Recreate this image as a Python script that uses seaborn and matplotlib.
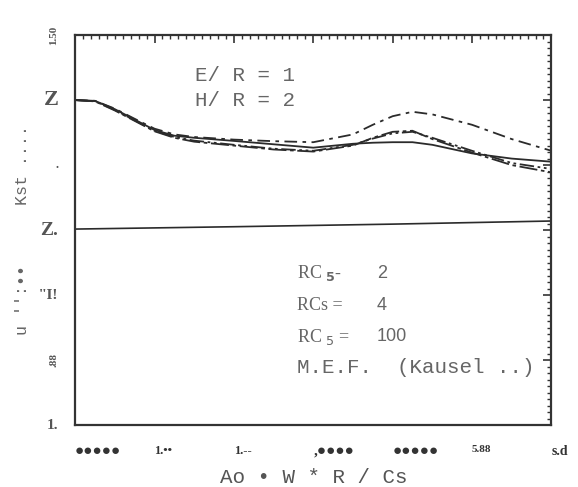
import matplotlib.pyplot as plt
import seaborn as sns
import pandas as pd
from matplotlib.ticker import MultipleLocator

# Valores (Kst x a0)
a0 = [0, 0.25, 0.5, 0.75, 1.0, 1.25, 1.5, 2.0, 2.5, 3.0, 3.5, 3.75, 4.0, 4.25, 4.5, 5.0, 5.5, 6.0]
kst_solid = [1.25, 1.247, 1.215, 1.175, 1.135, 1.113, 1.105, 1.093, 1.08, 1.067, 1.082, 1.086, 1.088, 1.088, 1.078, 1.045, 1.025, 1.013]
kst_dashdot_high = [1.25, 1.247, 1.217, 1.178, 1.14, 1.118, 1.108, 1.098, 1.092, 1.088, 1.118, 1.155, 1.188, 1.205, 1.195, 1.155, 1.10, 1.055]
kst_dashdot = [1.25, 1.245, 1.21, 1.17, 1.13, 1.105, 1.09, 1.075, 1.06, 1.052, 1.075, 1.105, 1.128, 1.132, 1.10, 1.048, 1.0, 0.972]
kst_dashdotdot = [1.25, 1.246, 1.212, 1.172, 1.132, 1.108, 1.094, 1.078, 1.063, 1.055, 1.078, 1.102, 1.122, 1.128, 1.105, 1.055, 1.008, 0.985]
a0_static = [0, 2, 4, 6]
kst_static = [0.754, 0.763, 0.773, 0.785]

x_ticks = [0, 1, 2, 3, 4, 5, 6]
x_tick_labels = ["●●●●●", "1.••", "1.--", ",●●●●", "●●●●●", "5.88", "s.d"]
y_ticks = [0, 0.25, 0.5, 0.75, 1.0, 1.25, 1.5]
y_tick_labels = ["1.", ".88", "''I!", "Z.", ".", "Z", "1.50"]

curves = pd.DataFrame({
    "a0": a0 * 4,
    "kst": kst_solid + kst_dashdot_high + kst_dashdot + kst_dashdotdot,
    "caso": ["solid"] * len(a0) + ["high"] * len(a0) + ["dashdot"] * len(a0) + ["dashdotdot"] * len(a0),
})

sns.set_theme(style="white")
plt.rcParams["font.family"] = ["Liberation Mono", "DejaVu Sans"]

fig = plt.figure(figsize=(5.78, 4.87), dpi=100)
ax = fig.add_axes([0.130, 0.127, 0.824, 0.801])

cor = "#2b2b2b"
sns.lineplot(data=curves, x="a0", y="kst", style="caso",
             dashes={"solid": "", "high": (7, 3, 2, 3), "dashdot": (10, 2, 2, 2),
                     "dashdotdot": (8, 2, 1.5, 2, 1.5, 2)},
             color=cor, linewidth=1.3, legend=False, sort=False, errorbar=None, ax=ax)
sns.lineplot(x=a0_static, y=kst_static, color=cor, linewidth=1.2, ax=ax)

ax.set_xlim(0, 6)
ax.set_ylim(0, 1.5)

for s in ax.spines.values():
    s.set_color("#333333")
    s.set_linewidth(1.6)

serif = ["Liberation Serif", "DejaVu Sans"]
sans = ["Liberation Sans", "DejaVu Sans"]

ax.set_xticks(x_ticks)
ax.set_xticklabels(x_tick_labels, ha="left", fontweight="bold", family=serif, color="#333333")
for lbl, fs in zip(ax.get_xticklabels(), [11, 9, 9, 11, 11, 8, 10]):
    lbl.set_fontsize(fs)
ax.set_yticks(y_ticks)
ax.set_yticklabels(y_tick_labels, fontweight="bold", family=serif, color="#555555")
for lbl, rot, fs in zip(ax.get_yticklabels(), [0, 90, 0, 0, 0, 0, 90], [11, 8, 11, 14, 9, 16, 8]):
    lbl.set_rotation(rot)
    lbl.set_fontsize(fs)
    lbl.set_va("center")

ax.xaxis.set_minor_locator(MultipleLocator(0.1))
ax.yaxis.set_minor_locator(MultipleLocator(0.025))
ax.tick_params(which="both", direction="in", top=True, right=True, color="#333333")
ax.tick_params(which="major", length=6, width=1.2)
ax.tick_params(which="minor", length=3, width=1.0)
ax.tick_params(axis="x", which="major", pad=14)
ax.tick_params(axis="y", which="major", pad=12)

ax.set_xlabel("Ao • W * R / Cs", fontsize=15, color="#555555", va="center")
ax.xaxis.set_label_coords(0.5, -0.135)
ax.set_ylabel("u '':••      Kst ....", fontsize=12, color="#666666", va="center")
ax.yaxis.set_label_coords(-0.11, 0.5)

txt = dict(transform=ax.transAxes, va="center", ha="left", color="#666666")
ax.text(0.252, 0.897, "E/ R = 1", fontsize=15, **txt)
ax.text(0.252, 0.833, "H/ R = 2", fontsize=15, **txt)

ax.text(0.466, 0.390, r"RC $_{\mathbf{5}}$-", fontsize=13, family=serif, **txt)
ax.text(0.634, 0.390, "2", fontsize=13, family=sans, **txt)
ax.text(0.466, 0.308, "RCs =", fontsize=13, family=serif, **txt)
ax.text(0.634, 0.308, "4", fontsize=13, family=sans, **txt)
ax.text(0.466, 0.226, r"RC $_{5}$ =", fontsize=13, family=serif, **txt)
ax.text(0.634, 0.226, "100", fontsize=13, family=sans, **txt)
ax.text(0.466, 0.149, "M.E.F.  (Kausel ..)", fontsize=15, **txt)

fig.savefig("out.png", dpi=100)
